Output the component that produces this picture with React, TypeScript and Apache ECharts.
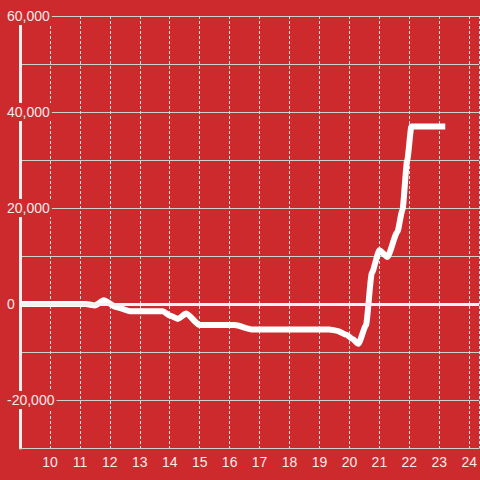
import React, { useEffect, useRef } from "react";
import * as echarts from "echarts";

const xValues = [9, 11.2, 11.5, 11.8, 12.2, 12.67, 13.77, 14.0, 14.27, 14.55, 15.0, 16.17, 16.77, 19.33, 19.6, 19.9, 20.1, 20.3, 20.55, 20.75, 21.0, 21.27, 21.6, 21.77, 21.93, 22.07, 23.2];
const yValues = [0, 0, -300, 800, -600, -1500, -1500, -2400, -3100, -2000, -4400, -4400, -5300, -5300, -5600, -6400, -7300, -8300, -4500, 6500, 11200, 9800, 15000, 19600, 30000, 37000, 37000];

const yMin = -30000;
const yMax = 60000;
const yInterval = 10000;
const xMin = 9;
const xMax = 24 + 1 / 3;

const BG = "#cd2a2e";

export default function App() {
  const ref = useRef<HTMLDivElement>(null);
  useEffect(() => {
    if (!ref.current) return;
    const chart = echarts.init(ref.current, null, { renderer: "svg" });
    const data = xValues.map((x, i) => [x, yValues[i]]);
    chart.setOption({
      animation: false,
      backgroundColor: BG,
      textStyle: { fontFamily: "Liberation Sans" },
      grid: { left: 20, right: 0, top: 16, bottom: 32, containLabel: false },
      xAxis: {
        type: "value",
        min: xMin,
        max: xMax,
        interval: 1,
        axisLine: { onZero: false, lineStyle: { color: "#cfcfcf", width: 1 } },
        axisTick: { show: false },
        axisLabel: {
          color: "#f6eaea",
          fontSize: 14,
          margin: 7,
          showMinLabel: false,
          showMaxLabel: false,
          fontFamily: "Liberation Sans",
        },
        splitLine: { show: true, lineStyle: { color: "#e2e2e2", width: 1, type: [3, 2] } },
      },
      yAxis: {
        type: "value",
        min: yMin,
        max: yMax,
        interval: yInterval,
        axisLine: { show: true, lineStyle: { color: "#eeeeee", width: 3 } },
        axisTick: { show: false },
        axisLabel: {
          align: "left",
          margin: 14,
          formatter: (v: number) =>
            v % 20000 === 0 && v !== yMin ? "{a|" + v.toLocaleString("en-US") + "}" : "",
          rich: {
            a: {
              color: "#f6eaea",
              fontSize: 14,
              fontFamily: "Liberation Sans",
              backgroundColor: BG,
              padding: [2, 2, 2, 1],
            },
          },
        },
        splitLine: { show: true, lineStyle: { color: "#cfcfcf", width: 1 } },
      },
      series: [
        {
          type: "line",
          data,
          showSymbol: false,
          smooth: 0.2,
          smoothMonotone: "x",
          lineStyle: { color: "#ffffff", width: 6, join: "round" },
          markLine: {
            silent: true,
            symbol: "none",
            label: { show: false },
            lineStyle: { color: "#f2f2f2", width: 3, type: "solid" },
            data: [{ yAxis: 0 }],
          },
        },
      ],
    });
    return () => chart.dispose();
  }, []);
  return (
    <div
      ref={ref}
      style={{ position: "fixed", left: 0, top: 0, width: 480, height: 480 }}
    />
  );
}
